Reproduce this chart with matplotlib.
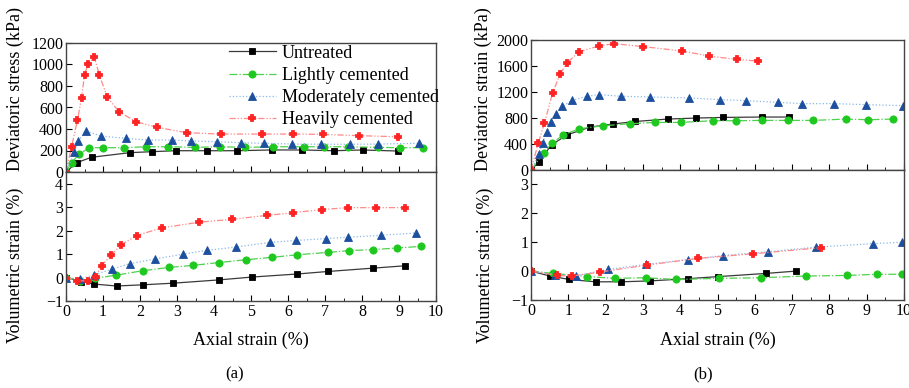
import matplotlib
matplotlib.use("Agg")
import matplotlib.pyplot as plt
from matplotlib.ticker import MultipleLocator

plt.rcParams["font.family"] = ["Liberation Serif", "DejaVu Serif"]
plt.rcParams["mathtext.fontset"] = "stix"

labels = ["Untreated", "Lightly cemented", "Moderately cemented", "Heavily cemented"]

# ---- (a) deviatoric stress vs axial strain
a_q_x = [
    [0, 0.29, 0.69, 1.73, 2.32, 2.96, 3.82, 4.63, 5.56, 6.39, 7.24, 8.02, 8.96],
    [0, 0.15, 0.36, 0.63, 1.01, 1.57, 2.16, 2.77, 3.49, 4.16, 4.84, 5.59, 6.43, 6.97, 7.63, 8.42, 9.03, 9.66],
    [0, 0.22, 0.33, 0.54, 0.95, 1.61, 2.21, 2.86, 3.38, 4.09, 4.72, 5.36, 6.10, 6.89, 7.68, 8.44, 9.54],
    [0, 0.15, 0.31, 0.42, 0.50, 0.59, 0.77, 0.90, 1.12, 1.43, 1.89, 2.45, 3.26, 4.18, 5.31, 6.13, 6.94, 7.92, 8.96],
]
a_q_y = [
    [0, 87, 137, 180, 189, 198, 198, 198, 205, 205, 198, 205, 195],
    [0, 87, 167, 226, 226, 226, 235, 235, 229, 235, 229, 235, 235, 235, 235, 229, 226, 226],
    [0, 183, 288, 381, 335, 313, 298, 298, 288, 282, 272, 267, 260, 258, 258, 260, 267],
    [0, 235, 483, 691, 899, 1004, 1066, 902, 695, 561, 468, 416, 366, 353, 353, 353, 350, 338, 328],
]

# ---- (a) volumetric strain vs axial strain
a_v_x = [
    [0, 0.41, 0.77, 1.37, 2.07, 2.90, 4.14, 5.02, 6.24, 7.09, 8.29, 9.15],
    [0, 0.38, 0.78, 1.35, 2.07, 2.78, 3.44, 4.14, 4.86, 5.56, 6.24, 7.07, 7.66, 8.30, 8.95, 9.60],
    [0, 0.38, 0.77, 1.24, 1.72, 2.40, 3.17, 3.80, 4.60, 5.51, 6.21, 7.02, 7.63, 8.50, 9.45],
    [0, 0.31, 0.60, 0.80, 0.96, 1.21, 1.49, 1.91, 2.59, 3.60, 4.48, 5.42, 6.13, 6.91, 7.63, 8.38, 9.15],
]
a_v_y = [
    [0, -0.17, -0.28, -0.36, -0.31, -0.24, -0.10, 0.02, 0.15, 0.26, 0.40, 0.50],
    [0, -0.13, -0.03, 0.10, 0.29, 0.43, 0.52, 0.64, 0.76, 0.86, 0.97, 1.07, 1.15, 1.19, 1.26, 1.33],
    [0, -0.06, 0.12, 0.36, 0.59, 0.79, 1.00, 1.16, 1.30, 1.50, 1.58, 1.66, 1.72, 1.80, 1.90],
    [0, -0.14, -0.14, 0.02, 0.50, 0.94, 1.40, 1.79, 2.12, 2.36, 2.48, 2.65, 2.76, 2.90, 2.98, 2.98, 2.98],
]

# ---- (b) deviatoric stress vs axial strain
b_q_x = [
    [0, 0.22, 0.55, 0.97, 1.58, 2.19, 2.80, 3.68, 4.42, 5.16, 6.20, 6.92],
    [0, 0.35, 0.56, 0.87, 1.29, 1.94, 2.65, 3.32, 4.02, 4.87, 5.50, 6.20, 6.90, 7.57, 8.45, 9.03, 9.71],
    [0, 0.22, 0.31, 0.42, 0.53, 0.66, 0.84, 1.11, 1.49, 1.82, 2.41, 3.19, 4.24, 5.07, 5.76, 6.61, 7.26, 8.12, 8.98, 9.98],
    [0, 0.20, 0.36, 0.58, 0.78, 0.97, 1.29, 1.82, 2.23, 3.01, 4.06, 4.77, 5.51, 6.09],
]
b_q_y = [
    [0, 129, 387, 541, 660, 707, 747, 784, 799, 809, 815, 815],
    [0, 268, 412, 541, 634, 681, 712, 732, 732, 758, 758, 763, 763, 763, 784, 773, 784],
    [0, 247, 423, 577, 732, 866, 979, 1072, 1134, 1160, 1134, 1124, 1108, 1083, 1067, 1041, 1021, 1021, 1005, 990],
    [0, 423, 722, 1187, 1475, 1650, 1821, 1907, 1944, 1898, 1830, 1753, 1702, 1676],
]

# ---- (b) volumetric strain vs axial strain
b_v_x = [
    [0, 0.51, 1.03, 1.73, 2.41, 3.19, 4.22, 5.02, 6.30, 7.10],
    [0, 0.60, 1.51, 2.25, 3.08, 3.90, 5.05, 6.17, 7.37, 8.46, 9.27, 9.95],
    [0, 0.65, 1.20, 2.07, 3.08, 4.22, 5.16, 6.36, 7.63, 9.16, 9.95],
    [0, 0.69, 1.09, 1.86, 3.11, 4.47, 5.96, 7.77],
]
b_v_y = [
    [0, -0.17, -0.29, -0.37, -0.37, -0.34, -0.26, -0.19, -0.08, 0.0],
    [0, -0.08, -0.19, -0.25, -0.23, -0.29, -0.25, -0.23, -0.17, -0.15, -0.11, -0.11],
    [0, -0.12, -0.17, 0.06, 0.23, 0.40, 0.54, 0.67, 0.83, 0.95, 1.00],
    [0, -0.15, -0.17, -0.03, 0.21, 0.44, 0.60, 0.81],
]

styles = [
    dict(color="#3a3a3a", ls="-", marker="s", mfc="black", ms=4.6, mew=0.6),
    dict(color="#4fd04f", ls="-.", marker="o", mfc="#1ec81e", ms=5.2, mew=0.6),
    dict(color="#8ab8e8", ls=":", marker="^", mfc="#1c4f9e", ms=5.6, mew=0.6),
    dict(color="#ff8a8a", ls=(0, (5, 1.5, 1, 1.5, 1, 1.5)), marker="P", mfc="#ff2424", ms=4.8, mew=1.3),
]

fig = plt.figure(figsize=(9.09, 3.88), dpi=100)
W, H = 909.0, 388.0


def add_axes(x0, x1, ytop, ybot):
    return fig.add_axes([x0 / W, 1 - ybot / H, (x1 - x0) / W, (ybot - ytop) / H])


def draw(ax, xs, ys):
    lines = []
    for x, y, st in zip(xs, ys, styles):
        ln, = ax.plot(x, y, color=st["color"], ls=st["ls"], lw=0.9,
                      marker=st["marker"], mfc=st["mfc"], mec=st["mfc"],
                      mew=st["mew"], ms=st["ms"])
        lines.append(ln)
    return lines


def style_axes(ax):
    for sp in ax.spines.values():
        sp.set_color("#444444")
        sp.set_linewidth(1.0)
    ax.tick_params(direction="in", which="both", labelsize=11.5,
                   top=False, right=False, pad=2)
    ax.tick_params(which="major", length=4)
    ax.tick_params(which="minor", length=2)
    ax.set_xlim(0, 10)
    ax.xaxis.set_major_locator(MultipleLocator(1))
    ax.xaxis.set_minor_locator(MultipleLocator(0.5))


# panel (a)
axa1 = add_axes(66, 436, 43, 172)
axa2 = add_axes(66, 436, 172, 301)
# panel (b)
axb1 = add_axes(531, 904, 40, 170)
axb2 = add_axes(531, 904, 170, 300)

handles = draw(axa1, a_q_x, a_q_y)
draw(axa2, a_v_x, a_v_y)
draw(axb1, b_q_x, b_q_y)
draw(axb2, b_v_x, b_v_y)

for ax in (axa1, axa2, axb1, axb2):
    style_axes(ax)

axa1.set_ylim(0, 1200)
axa1.yaxis.set_major_locator(MultipleLocator(200))
axa1.tick_params(labelbottom=False)
axa2.set_ylim(-1, 4.5)
axa2.yaxis.set_major_locator(MultipleLocator(1))

axb1.set_ylim(0, 2000)
axb1.yaxis.set_major_locator(MultipleLocator(400))
axb1.tick_params(labelbottom=False)
axb2.set_ylim(-1, 3.5)
axb2.yaxis.set_major_locator(MultipleLocator(1))

lab_fs = 13
axa1.set_ylabel("Deviatoric stress (kPa)", fontsize=lab_fs)
axa1.yaxis.set_label_coords(-0.114, 0.64)
axa2.set_ylabel("Volumetric strain (%)", fontsize=lab_fs)
axa2.yaxis.set_label_coords(-0.114, 0.28)
axa2.set_xlabel("Axial strain (%)", fontsize=lab_fs)
axa2.xaxis.set_label_coords(0.5, -0.24)

axb1.set_ylabel("Deviatoric strain (kPa)", fontsize=lab_fs)
axb1.yaxis.set_label_coords(-0.105, 0.62)
axb2.set_ylabel("Volumetric strain (%)", fontsize=lab_fs)
axb2.yaxis.set_label_coords(-0.099, 0.27)
axb2.set_xlabel("Axial strain (%)", fontsize=lab_fs)
axb2.xaxis.set_label_coords(0.5, -0.246)

axa1.legend(handles, labels, loc="upper left", bbox_to_anchor=(0.435, 1.0),
            frameon=False, fontsize=lab_fs, borderpad=0.1, borderaxespad=0,
            handlelength=2.6, handletextpad=0.35, labelspacing=0.28)

fig.text(235 / W, 1 - 374 / H, "(a)", ha="center", va="center", fontsize=12)
fig.text(703 / W, 1 - 374 / H, "(b)", ha="center", va="center", fontsize=12)

fig.savefig("out.png", dpi=100)
